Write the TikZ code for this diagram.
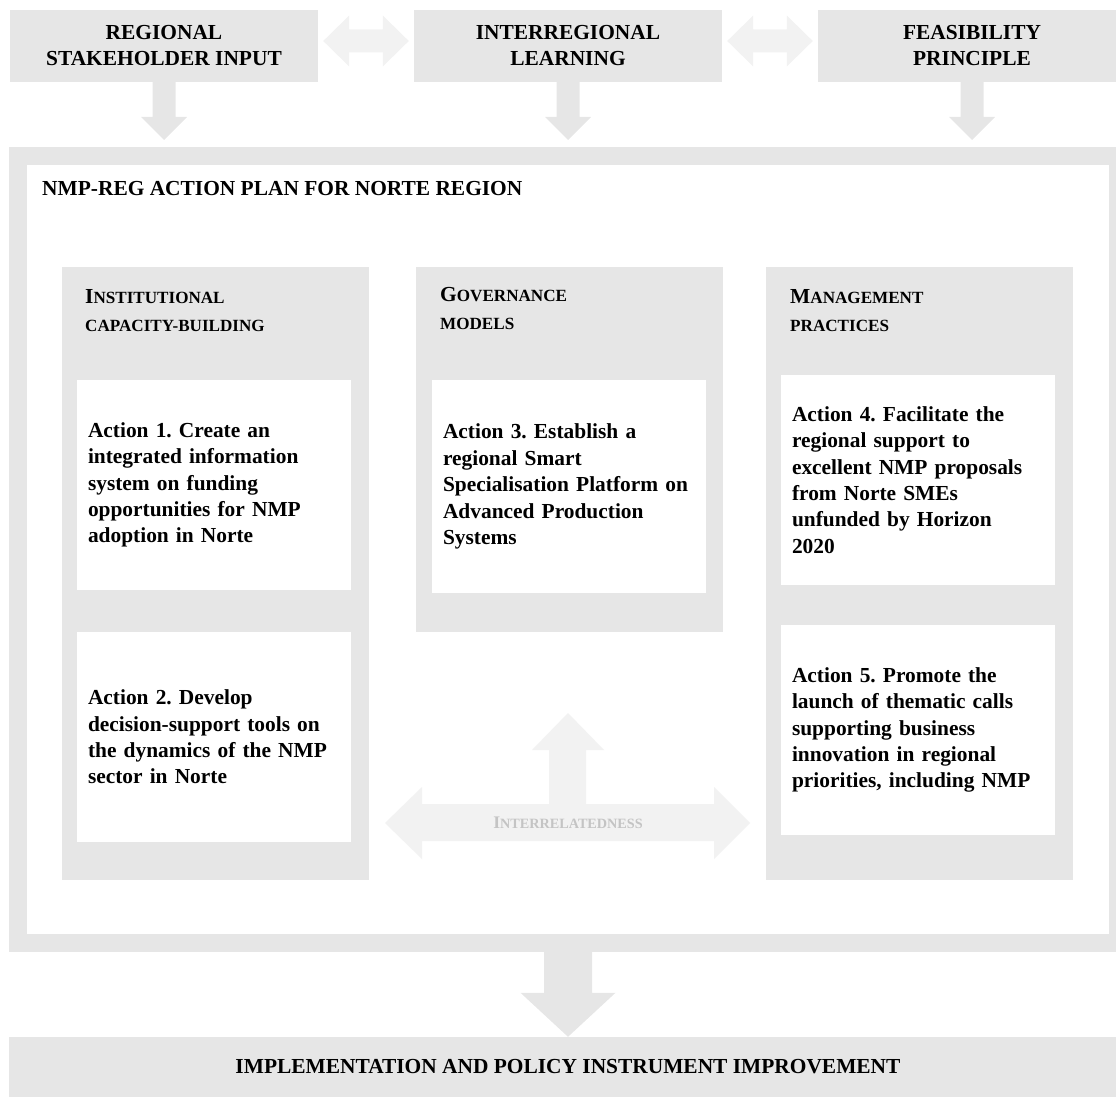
\documentclass[tikz,border=0pt]{standalone}
\usepackage{fontspec}
\setmainfont{Liberation Serif}
\usetikzlibrary{calc}
\frenchspacing
\definecolor{panelgray}{HTML}{E6E6E6}
\definecolor{linkgray}{HTML}{F2F2F2}
\definecolor{faintgray}{HTML}{C4C4C4}

% big first letter for the fake small caps
\newcommand{\headcap}[1]{{\fontsize{21.4}{28}\selectfont #1}}
\newcommand{\relcap}[1]{{\fontsize{17.7}{20}\selectfont #1}}

% block arrow pointing down, from one node to the next
\newcommand{\flowdown}[6]{%
  \fill[flow] let \p1=(#1), \p2=(#2) in
    (\x1-#3,\y1) -- (\x1+#3,\y1) -- (\x1+#3,\y2+#6+#5) -- (\x1+#4,\y2+#6+#5)
    -- (\x1,\y2+#6) -- (\x1-#4,\y2+#6+#5) -- (\x1-#3,\y2+#6+#5) -- cycle;}
% light two-way arrow between two input boxes
\newcommand{\flowboth}[2]{%
  \fill[link] let \p1=(#1.east), \p2=(#2.west) in
    (\x1+5pt,\y1+5pt) -- (\x1+31pt,\y1+30.5pt) -- (\x1+31pt,\y1+16.5pt)
    -- (\x2-31pt,\y1+16.5pt) -- (\x2-31pt,\y1+30.5pt) -- (\x2-5pt,\y1+5pt)
    -- (\x2-31pt,\y1-20.5pt) -- (\x2-31pt,\y1-6.5pt) -- (\x1+31pt,\y1-6.5pt)
    -- (\x1+31pt,\y1-20.5pt) -- cycle;}

\tikzset{
  inbox/.style={fill=panelgray, minimum width=308pt, minimum height=72pt, align=center,
    font=\fontsize{21.4}{26}\selectfont\bfseries},
  planbox/.style={draw=panelgray, line width=18pt, fill=white, minimum width=1100pt, minimum height=787pt},
  colbox/.style={fill=panelgray, minimum width=307pt},
  actbox/.style={fill=white, minimum width=274pt, text width=252pt, inner xsep=11pt, align=left,
    font=\fontsize{21.4}{26.4}\selectfont\bfseries},
  colhead/.style={anchor=north west, inner sep=0pt, align=left, font=\fontsize{17.1}{28}\selectfont\bfseries},
  flow/.style={fill=panelgray},
  link/.style={fill=linkgray},
}

\begin{document}
\begin{tikzpicture}[x=1pt, y=-1pt]
  \useasboundingbox (0,0) rectangle (1116,1097);

  % inputs
  \node[inbox] (in1) at (164,46) {REGIONAL\\STAKEHOLDER INPUT};
  \node[inbox] (in2) at (568,46) {INTERREGIONAL\\LEARNING};
  \node[inbox] (in3) at (972,46) {FEASIBILITY\\PRINCIPLE};
  \flowboth{in1}{in2}
  \flowboth{in2}{in3}

  % action plan frame
  \node[planbox] (plan) at (568,549.5) {};
  \node[anchor=base west, inner sep=0pt, font=\fontsize{21.4}{26}\selectfont\bfseries] (title) at (42,195)
    {NMP-REG ACTION PLAN FOR NORTE REGION};
  \flowdown{in1.south}{plan.north}{11.5pt}{23pt}{23pt}{7pt}
  \flowdown{in2.south}{plan.north}{11.5pt}{23pt}{23pt}{7pt}
  \flowdown{in3.south}{plan.north}{11.5pt}{23pt}{23pt}{7pt}

  % three columns
  \node[colbox, minimum height=613pt] (col1) at (215.5,573.5) {};
  \node[colbox, minimum height=365pt] (col2) at (569,449.5) {};
  \node[colbox, minimum height=613pt] (col3) at (919.5,573.5) {};
  \node[colhead] (head1) at (85,289) {\headcap{I}NSTITUTIONAL\\CAPACITY-BUILDING};
  \node[colhead] (head2) at (440,287) {\headcap{G}OVERNANCE\\MODELS};
  \node[colhead] (head3) at (790,289) {\headcap{M}ANAGEMENT\\PRACTICES};

  % actions
  \node[actbox, minimum height=210pt] (act1) at (214,485)
    {Action 1. Create an\\integrated information\\system on funding\\opportunities for NMP\\adoption in Norte};
  \node[actbox, minimum height=210pt] (act2) at (214,737)
    {Action 2. Develop\\decision-support tools on\\the dynamics of the NMP\\sector in Norte};
  \node[actbox, minimum height=213pt] (act3) at (569,486.5)
    {Action 3. Establish a\\regional Smart\\Specialisation Platform on\\Advanced Production\\Systems};
  \node[actbox, minimum height=210pt] (act4) at (918,480)
    {Action 4. Facilitate the\\regional support to\\excellent NMP proposals\\from Norte SMEs\\unfunded by Horizon\\2020};
  \node[actbox, minimum height=210pt] (act5) at (918,730)
    {Action 5. Promote the\\launch of thematic calls\\supporting business\\innovation in regional\\priorities, including NMP\par\vspace{36pt}};

  % interrelatedness
  \coordinate (hub) at (568,823);
  \begin{scope}[shift={(hub)}]
    \fill[link] (-183,0) -- (-146,-36) -- (-146,-19) -- (-19,-19) -- (-19,-73) -- (-36,-73)
      -- (0,-110) -- (36,-73) -- (18,-73) -- (18,-19) -- (146,-19) -- (146,-36)
      -- (182,0) -- (146,36) -- (146,18) -- (-146,18) -- (-146,36) -- cycle;
  \end{scope}
  \node[text=faintgray, font=\fontsize{14.2}{16}\selectfont\bfseries] (rel) at (hub) {\relcap{I}NTERRELATEDNESS};

  % outcome
  \node[fill=panelgray, minimum width=1118pt, minimum height=60pt, font=\fontsize{21.4}{26}\selectfont\bfseries] (impl) at (568,1067)
    {IMPLEMENTATION AND POLICY INSTRUMENT IMPROVEMENT};
  \flowdown{plan.south}{impl.north}{24pt}{47.5pt}{44pt}{0pt}
\end{tikzpicture}
\end{document}
